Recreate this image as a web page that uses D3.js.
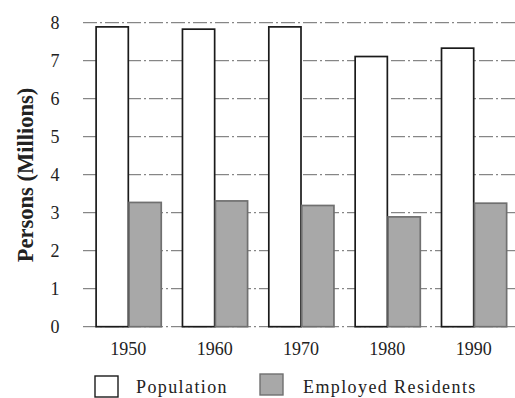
<!DOCTYPE html>
<html>
<head>
<meta charset="utf-8">
<script src="https://cdn.jsdelivr.net/npm/d3@7"></script>
<style>
  html, body { margin: 0; padding: 0; background: #fff; }
</style>
</head>
<body>
<svg id="chart" width="515" height="398"></svg>
<script>
// Census decades
const years = ["1950", "1960", "1970", "1980", "1990"];
// Persons, in millions
const population = [7.89, 7.83, 7.89, 7.11, 7.33];
const employedResidents = [3.27, 3.31, 3.19, 2.89, 3.25];
const seriesNames = ["Population", "Employed Residents"];
const yTicks = [0, 1, 2, 3, 4, 5, 6, 7, 8];

const serifFont = "'Liberation Serif', 'Times New Roman', serif";

const series = [
  { name: seriesNames[0], values: population, fill: "#ffffff", stroke: "#1a1a1a" },
  { name: seriesNames[1], values: employedResidents, fill: "#a8a8a8", stroke: "#707070" }
];

const svg = d3.select("#chart");

const x = d3.scaleBand().domain(years).range([85, 517]).paddingInner(0.237).paddingOuter(0.12);
const xInner = d3.scaleBand().domain(seriesNames).range([0, x.bandwidth()]).padding(0);
const y = d3.scaleLinear().domain([0, 8]).range([326.7, 22.7]);

// horizontal dash-dot grid lines
svg.append("g")
  .selectAll("line")
  .data(yTicks)
  .join("line")
  .attr("x1", 83).attr("x2", 515)
  .attr("y1", d => y(d)).attr("y2", d => y(d))
  .attr("stroke", "#6a6a6a")
  .attr("stroke-width", 1)
  .attr("stroke-dasharray", "14,3,2,3");

// y tick labels
svg.append("g")
  .selectAll("text")
  .data(yTicks)
  .join("text")
  .attr("x", 55)
  .attr("y", d => y(d))
  .attr("dy", "0.35em")
  .attr("text-anchor", "middle")
  .style("font-family", serifFont)
  .attr("font-size", 18)
  .attr("fill", "#222")
  .text(d => d);

// y axis title
svg.append("text")
  .attr("transform", "translate(25,175) rotate(-90)")
  .attr("text-anchor", "middle")
  .attr("dy", "0.35em")
  .style("font-family", serifFont)
  .attr("font-size", 22.5)
  .attr("font-weight", "bold")
  .attr("fill", "#222")
  .text("Persons (Millions)");

// bars
const groups = svg.append("g")
  .selectAll("g")
  .data(years)
  .join("g")
  .attr("transform", d => `translate(${x(d)},0)`);

series.forEach(s => {
  groups.append("rect")
    .attr("x", xInner(s.name) + 0.75)
    .attr("width", xInner.bandwidth() - 0.75)
    .attr("y", d => y(s.values[years.indexOf(d)]))
    .attr("height", d => y(0) - y(s.values[years.indexOf(d)]))
    .attr("fill", s.fill)
    .attr("stroke", s.stroke)
    .attr("stroke-width", 1.7);
});

// x labels
svg.append("g")
  .selectAll("text")
  .data(years)
  .join("text")
  .attr("x", d => x(d) + x.bandwidth() / 2)
  .attr("y", 355)
  .attr("text-anchor", "middle")
  .style("font-family", serifFont)
  .attr("font-size", 18)
  .attr("fill", "#222")
  .text(d => d);

// legend
const legendPos = [{ bx: 95, by: 376, tx: 136 }, { bx: 260, by: 374, tx: 303 }];
series.forEach((s, i) => {
  svg.append("rect")
    .attr("x", legendPos[i].bx)
    .attr("y", legendPos[i].by)
    .attr("width", 23)
    .attr("height", 21)
    .attr("fill", s.fill)
    .attr("stroke", s.stroke)
    .attr("stroke-width", 1.4);
  svg.append("text")
    .attr("x", legendPos[i].tx)
    .attr("y", 393)
    .style("font-family", serifFont)
    .style("letter-spacing", "1.4px")
    .attr("font-size", 18)
    .attr("fill", "#222")
    .text(s.name);
});
</script>
</body>
</html>
